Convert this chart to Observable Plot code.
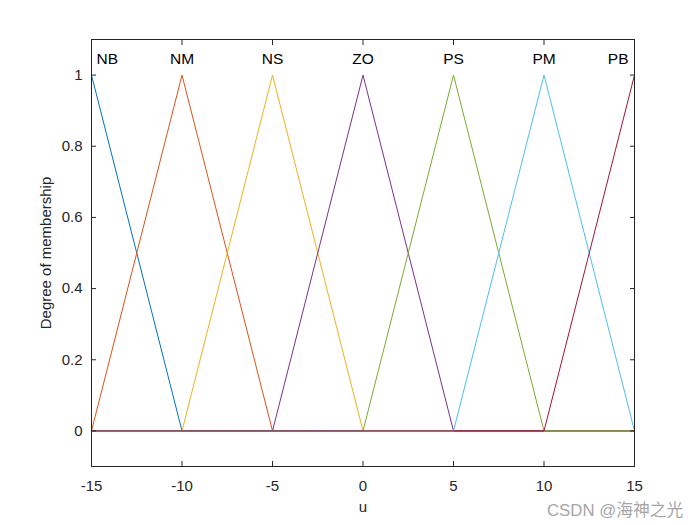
<!DOCTYPE html>
<html>
<head>
<meta charset="utf-8">
<script src="https://cdn.jsdelivr.net/npm/d3@7"></script>
<script src="https://cdn.jsdelivr.net/npm/@observablehq/plot@0.6"></script>
<style>
  html, body { margin: 0; padding: 0; background: #fff; }
  #wrap { position: relative; width: 700px; height: 525px; }
  #wm { position: absolute; left: 547px; top: 497px; font: 16.8px "Liberation Sans", Arial, "Noto Sans CJK SC", sans-serif; color: #a6a6a6; white-space: nowrap; }
</style>
</head>
<body>
<div id="wrap"></div>
<script>
// ---- data ----
const xTicks = [-15, -10, -5, 0, 5, 10, 15];
const xTickLabels = ["-15", "-10", "-5", "0", "5", "10", "15"];
const yTicks = [0, 0.2, 0.4, 0.6, 0.8, 1];
const yTickLabels = ["0", "0.2", "0.4", "0.6", "0.8", "1"];
const breakX = [-15, -10, -5, 0, 5, 10, 15];
const mfNames = ["NB", "NM", "NS", "ZO", "PS", "PM", "PB"];
const mfPeaks = [-15, -10, -5, 0, 5, 10, 15];
const mfColors = ["#0072BD", "#D95319", "#EDB120", "#7E2F8E", "#77AC30", "#4DBEEE", "#A2142F"];
const nbValues = [1, 0, 0, 0, 0, 0, 0];
const nmValues = [0, 1, 0, 0, 0, 0, 0];
const nsValues = [0, 0, 1, 0, 0, 0, 0];
const zoValues = [0, 0, 0, 1, 0, 0, 0];
const psValues = [0, 0, 0, 0, 1, 0, 0];
const pmValues = [0, 0, 0, 0, 0, 1, 0];
const pbValues = [0, 0, 0, 0, 0, 0, 1];
const watermark = "CSDN @海神之光";

const seriesValues = [nbValues, nmValues, nsValues, zoValues, psValues, pmValues, pbValues];
const lineData = mfNames.flatMap((name, i) =>
  breakX.map((x, j) => ({name, x, y: seriesValues[i][j]})));
const labelData = mfNames.map((name, i) => ({name, x: mfPeaks[i], y: 1}));

const fmtX = d => xTickLabels[xTicks.indexOf(d)];
const fmtY = d => yTickLabels[yTicks.findIndex(t => Math.abs(t - d) < 1e-9)];
const ink = "#262626";
const noLabel = () => "";

const chart = Plot.plot({
  width: 700,
  height: 525,
  marginLeft: 91,
  marginRight: 66,
  marginTop: 39,
  marginBottom: 59,
  style: {fontFamily: "'Liberation Sans', Arial, Helvetica, sans-serif", fontSize: "15px", color: ink, background: "#fff"},
  x: {domain: [-15, 15]},
  y: {domain: [-0.1, 1.1]},
  color: {domain: mfNames, range: mfColors},
  marks: [
    Plot.line(lineData, {x: "x", y: "y", z: "name", stroke: "name", strokeWidth: 1}),
    Plot.text(labelData.slice(0, 1), {x: "x", y: "y", text: "name", textAnchor: "start", dx: 5, dy: -16.5, fill: "#000", fontSize: 15.5}),
    Plot.text(labelData.slice(1, -1), {x: "x", y: "y", text: "name", textAnchor: "middle", dy: -16.5, fill: "#000", fontSize: 15.5}),
    Plot.text(labelData.slice(-1), {x: "x", y: "y", text: "name", textAnchor: "end", dx: -6, dy: -16.5, fill: "#000", fontSize: 15.5}),
    Plot.frame({stroke: ink}),
    Plot.axisX({ticks: xTicks, tickSize: 0, tickPadding: 14, tickFormat: fmtX, label: "u", labelArrow: false, labelAnchor: "center", labelOffset: 45, fill: ink}),
    Plot.axisX({ticks: xTicks, anchor: "bottom", tickSize: -5, tickFormat: noLabel, label: null, stroke: ink}),
    Plot.axisX({ticks: xTicks, anchor: "top", tickSize: -5, tickFormat: noLabel, label: null, stroke: ink}),
    Plot.axisY({ticks: yTicks, tickSize: 0, tickPadding: 9, tickFormat: fmtY, label: "Degree of membership", labelArrow: false, labelAnchor: "center", labelOffset: 51, fill: ink}),
    Plot.axisY({ticks: yTicks, anchor: "left", tickSize: -5, tickFormat: noLabel, label: null, stroke: ink}),
    Plot.axisY({ticks: yTicks, anchor: "right", tickSize: -5, tickFormat: noLabel, label: null, stroke: ink})
  ]
});
const wrap = document.getElementById("wrap");
wrap.appendChild(chart);
const wm = document.createElement("div");
wm.id = "wm";
wm.textContent = watermark;
wrap.appendChild(wm);
</script>
</body>
</html>
